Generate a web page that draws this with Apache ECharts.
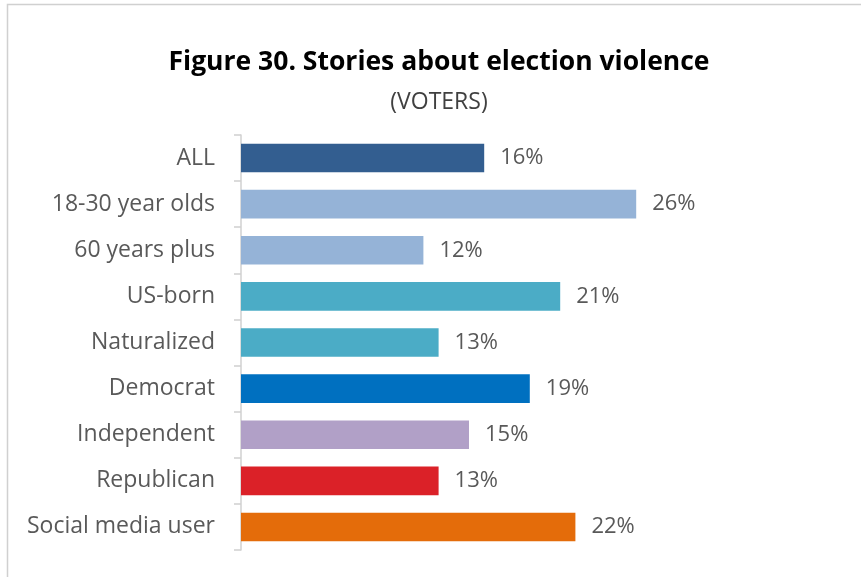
<!DOCTYPE html>
<html>
<head>
<meta charset="utf-8">
<script src="https://cdn.jsdelivr.net/npm/echarts@6/dist/echarts.min.js"></script>
<style>
  html, body { margin: 0; padding: 0; background: #fff; }
  #chart { width: 861px; height: 577px; }
</style>
</head>
<body>
<div id="chart"></div>
<script>
// Share of voters who saw stories about election violence, by group (%)
const categories = [
  'ALL', '18-30 year olds', '60 years plus', 'US-born', 'Naturalized',
  'Democrat', 'Independent', 'Republican', 'Social media user'
];
const values = [16, 26, 12, 21, 13, 19, 15, 13, 22];

// One fill per group
const barColors = [
  '#335e90', '#95b3d7', '#95b3d7', '#4bacc6', '#4bacc6',
  '#0070c0', '#b1a0c7', '#db2128', '#e46c0a'
];

const FONT = '"Open Sans", "Liberation Sans", sans-serif';

const chart = echarts.init(document.getElementById('chart'), null, { renderer: 'canvas' });

chart.setOption({
  animation: false,
  backgroundColor: '#ffffff',
  title: {
    text: 'Figure 30. Stories about election violence',
    subtext: '(VOTERS)',
    left: 434,
    textAlign: 'center',
    top: 44,
    itemGap: 15,
    textStyle: { fontFamily: FONT, fontWeight: 'bold', fontSize: 26.5, color: '#000000' },
    subtextStyle: { fontFamily: FONT, fontSize: 23, color: '#404040' }
  },
  graphic: [{
    type: 'rect',
    shape: { x: 7.5, y: 4.5, width: 900, height: 600 },
    style: { fill: 'none', stroke: '#d0d0d0', lineWidth: 1.5 },
    silent: true
  }],
  grid: { left: 241, top: 135, width: 456, height: 415, containLabel: false },
  xAxis: {
    type: 'value',
    min: 0,
    max: 30,
    show: false
  },
  yAxis: {
    type: 'category',
    data: categories,
    inverse: true,
    axisLine: { show: true, lineStyle: { color: '#d0d0d0', width: 1.5 } },
    axisTick: { show: true, length: 7, inside: false, lineStyle: { color: '#d0d0d0', width: 1.5 } },
    axisLabel: { fontFamily: FONT, fontSize: 23, color: '#595959', margin: 26, padding: [4, 0, 0, 0] },
    splitLine: { show: false }
  },
  series: [{
    type: 'bar',
    barCategoryGap: '38%',
    data: values.map((v, i) => ({ value: v, itemStyle: { color: barColors[i] } })),
    label: {
      show: true,
      position: 'right',
      distance: 16,
      formatter: '{c}%',
      fontFamily: FONT,
      fontSize: 22,
      color: '#595959',
      padding: [5, 0, 0, 0]
    }
  }]
});
</script>
</body>
</html>
